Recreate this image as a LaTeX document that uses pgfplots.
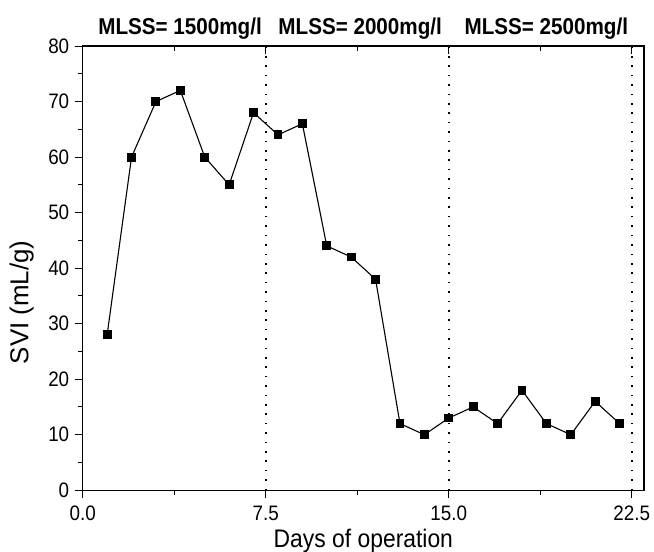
\documentclass[border=0pt]{standalone}
\usepackage{fontspec}
\setmainfont[FakeStretch=0.9]{Liberation Sans}
\newfontfamily\plainfont{Liberation Sans}
\usepackage{pgfplots}
\pgfplotsset{compat=1.18}
\begin{document}
\begin{tikzpicture}
\begin{axis}[
 name=main,
 scale only axis, width=561bp, height=444bp,
 xmin=0, xmax=23, ymin=0, ymax=80,
 xtick={0,7.5,15,22.5}, minor x tick num=1,
 ytick={0,10,...,80}, minor y tick num=1,
 xtick pos=bottom, ytick pos=left,
 tick align=outside,
 major tick length=8bp, minor tick length=5bp,
 axis line style={line width=1.2bp},
 every tick/.style={black, line width=1bp},
 /pgf/number format/assume math mode=true,
 tick label style={font=\fontsize{21}{24}\selectfont},
 xticklabel style={yshift=-4bp, /pgf/number format/.cd, fixed, fixed zerofill, precision=1},
 yticklabel style={xshift=-2bp},
 xlabel={Days of operation}, ylabel={SVI (mL/g)},
 xlabel style={font=\fontsize{25.5}{30}\selectfont, at={(axis description cs:0.5,-0.130)}, anchor=base},
 ylabel style={font=\plainfont\fontsize{26}{30}\selectfont, at={(axis description cs:-0.109,0.423)}, anchor=center},
 clip=false,
]
\addplot[black, line width=1.5bp, dash pattern=on 1.6bp off 7.8bp, forget plot] coordinates {(7.5,0) (7.5,80)};
\addplot[black, line width=1.5bp, dash pattern=on 1.6bp off 7.8bp, forget plot] coordinates {(15,0) (15,80)};
\addplot[black, line width=1.5bp, dash pattern=on 1.6bp off 7.8bp, forget plot] coordinates {(22.5,0) (22.5,80)};
\addplot[black, line width=1.1bp, mark=square*, mark size=3.9bp, mark options={solid, fill=black}] coordinates {
(1,28) (2,60) (3,70) (4,72) (5,60) (6,55) (7,68) (8,64) (9,66) (10,44) (11,42)
(12,38) (13,12) (14,10) (15,13) (16,15) (17,12) (18,18) (19,12) (20,10) (21,16) (22,12)
};
\node[font=\bfseries\fontsize{23}{28}\selectfont, anchor=base] at (rel axis cs:0.1734,1.027) {MLSS= 1500mg/l};
\node[font=\bfseries\fontsize{23}{28}\selectfont, anchor=base] at (rel axis cs:0.4943,1.027) {MLSS= 2000mg/l};
\node[font=\bfseries\fontsize{23}{28}\selectfont, anchor=base] at (rel axis cs:0.826,1.027) {MLSS= 2500mg/l};
\end{axis}
\begin{axis}[
 scale only axis, width=561bp, height=444bp,
 xmin=0, xmax=23, ymin=0, ymax=80,
 axis x line*=top, axis y line=none,
 xtick={0,7.5,15,22.5}, minor x tick num=1,
 xticklabels={}, tick align=inside,
 major tick length=8bp, minor tick length=5bp,
 axis line style={line width=1.2bp},
 every tick/.style={black, line width=1bp},
]
\end{axis}
\pgfresetboundingbox
\path ([shift={(-82.7bp,-61.7bp)}]main.south west) rectangle ([shift={(10bp,46bp)}]main.north east);
\end{tikzpicture}
\end{document}
